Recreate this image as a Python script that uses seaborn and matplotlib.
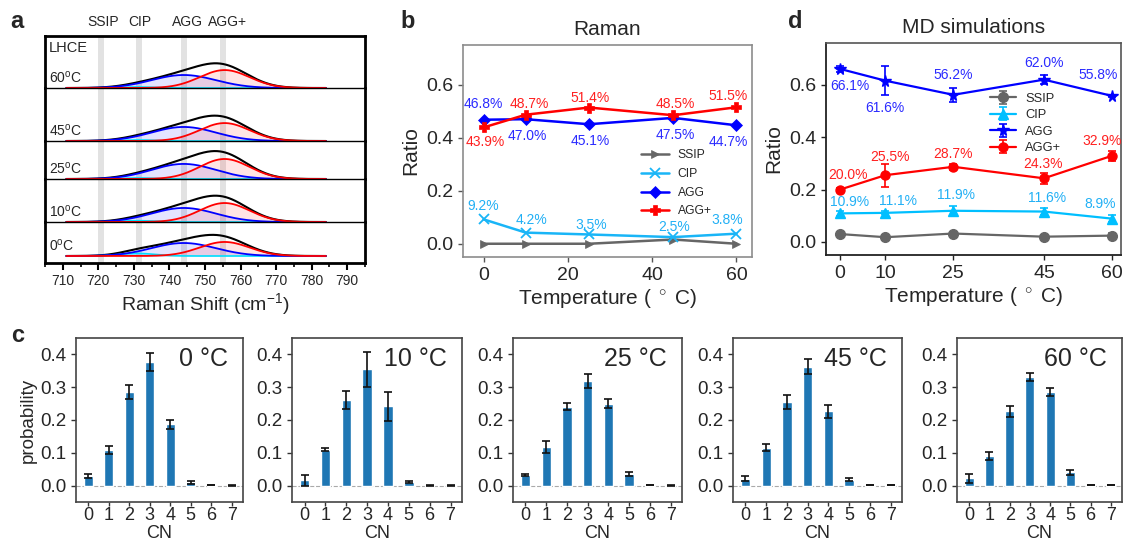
import numpy as np
import matplotlib
matplotlib.use('Agg')
import matplotlib.pyplot as plt
import matplotlib.transforms as mtransforms
from matplotlib.ticker import MultipleLocator
import seaborn as sns

# ---------------- data ----------------
# panel a: fitted Raman components per temperature (top strip -> bottom strip)
a_temps = ['60', '45', '25', '10', '0']
a_agg_amp = [0.50, 0.54, 0.58, 0.54, 0.50]
a_aggp_amp = [0.69, 0.69, 0.77, 0.73, 0.54]
a_cip_amp = [0.04, 0.04, 0.04, 0.05, 0.10]
a_centers = {'CIP': 731.0, 'AGG': 744.0, 'AGG+': 755.5}
a_sigmas = {'CIP': 5.0, 'AGG': 9.0, 'AGG+': 7.0}
band_labels = ['SSIP', 'CIP', 'AGG', 'AGG+']
band_pos = [720.7, 731.5, 744.2, 755.0]

# panel b: Raman ratios
b_temp = [0, 10, 25, 45, 60]
b_ssip = [0.0, 0.0, 0.0, 0.016, 0.0]
b_cip = [0.092, 0.042, 0.035, 0.025, 0.038]
b_agg = [0.468, 0.470, 0.451, 0.475, 0.447]
b_aggp = [0.439, 0.487, 0.514, 0.485, 0.515]

# panel d: MD ratios with error bars
d_temp = [0, 10, 25, 45, 60]
d_ssip = [0.030, 0.018, 0.032, 0.020, 0.024]
d_ssip_err = [0.005, 0.010, 0.005, 0.005, 0.010]
d_cip = [0.109, 0.111, 0.119, 0.116, 0.089]
d_cip_err = [0.011, 0.006, 0.019, 0.013, 0.013]
d_agg = [0.661, 0.616, 0.562, 0.620, 0.558]
d_agg_err = [0.012, 0.055, 0.026, 0.018, 0.005]
d_aggp = [0.200, 0.255, 0.287, 0.243, 0.329]
d_aggp_err = [0.005, 0.044, 0.011, 0.021, 0.018]

# panel c: CN distributions
c_cn = [0, 1, 2, 3, 4, 5, 6, 7]
c_titles = ['0 °C', '10 °C', '25 °C', '45 °C', '60 °C']
c_prob_0 = [0.028, 0.108, 0.285, 0.377, 0.187, 0.010, 0.001, 0.0005]
c_err_0 = [0.006, 0.013, 0.021, 0.027, 0.014, 0.005, 0.0005, 0.0005]
c_prob_10 = [0.016, 0.110, 0.261, 0.355, 0.242, 0.010, 0.0005, 0.0005]
c_err_10 = [0.017, 0.004, 0.026, 0.053, 0.044, 0.003, 0.0005, 0.0005]
c_prob_25 = [0.032, 0.118, 0.240, 0.319, 0.250, 0.035, 0.001, 0.0005]
c_err_25 = [0.004, 0.019, 0.011, 0.020, 0.014, 0.007, 0.0005, 0.0005]
c_prob_45 = [0.021, 0.116, 0.256, 0.363, 0.226, 0.018, 0.002, 0.001]
c_err_45 = [0.007, 0.011, 0.021, 0.024, 0.021, 0.005, 0.0005, 0.0005]
c_prob_60 = [0.022, 0.090, 0.226, 0.331, 0.285, 0.040, 0.002, 0.001]
c_err_60 = [0.014, 0.012, 0.016, 0.013, 0.013, 0.009, 0.0005, 0.0005]

# ---------------- style ----------------
sns.set_theme(style='ticks')
plt.rcParams['font.family'] = ['Liberation Sans', 'DejaVu Sans']
plt.rcParams['mathtext.fontset'] = 'custom'
plt.rcParams['mathtext.rm'] = 'Liberation Sans'
plt.rcParams['mathtext.it'] = 'Liberation Sans:italic'
plt.rcParams['mathtext.bf'] = 'Liberation Sans:bold'

W, H = 1123, 544
fig = plt.figure(figsize=(W / 100, H / 100), dpi=100)
PT = 0.72  # points per pixel


def rect(l, t, r, b):
    return [l / W, 1 - b / H, (r - l) / W, (b - t) / H]


def ftext(x, y, s, **kw):
    return fig.text(x / W, 1 - y / H, s, **kw)


def gauss(x, a, c, s):
    return a * np.exp(-0.5 * ((x - c) / s) ** 2)


# ---------------- panel a ----------------
strip_px = [(36, 88), (88, 141), (141, 179), (179, 222), (222, 263)]
baseline_px = [88, 141, 179, 222, 256]
unit_px = 26.0
xs = np.linspace(711, 784, 600)
n_strips = len(a_temps)
for i in range(n_strips):
    top, bot = strip_px[i]
    base = baseline_px[i]
    ax = fig.add_axes(rect(45, top, 365, bot))
    ax.set_xlim(705, 795)
    ax.set_ylim(-(bot - base) / unit_px, (base - top) / unit_px)
    for p in band_pos:
        ax.axvspan(p - 0.85, p + 0.85, color='#e2e2e2', zorder=0, lw=0)
    cip = gauss(xs, a_cip_amp[i], a_centers['CIP'], a_sigmas['CIP'])
    agg = gauss(xs, a_agg_amp[i], a_centers['AGG'], a_sigmas['AGG'])
    aggp = gauss(xs, a_aggp_amp[i], a_centers['AGG+'], a_sigmas['AGG+'])
    total = cip + agg + aggp
    ax.fill_between(xs, 0, cip, color='#00e5ff', alpha=0.25, lw=0, zorder=1)
    ax.fill_between(xs, 0, agg, color='#3030ff', alpha=0.13, lw=0, zorder=1)
    ax.fill_between(xs, 0, aggp, color='#ff3030', alpha=0.13, lw=0, zorder=1)
    ax.plot(xs, total, color='black', lw=1.5, zorder=2)
    ax.plot(xs, cip, color='#00e0ff', lw=1.2, zorder=3)
    ax.plot(xs, agg, color='#0000ff', lw=1.3, zorder=3)
    ax.plot(xs, aggp, color='#ff0000', lw=1.3, zorder=4)
    ax.set_yticks([])
    for s in ['left', 'right']:
        ax.spines[s].set_linewidth(2.0)
        ax.spines[s].set_color('black')
    ax.spines['top'].set_linewidth(2.0 if i == 0 else 1.0)
    ax.spines['top'].set_color('black')
    ax.spines['bottom'].set_color('black')
    if i < n_strips - 1:
        ax.spines['bottom'].set_visible(False)
        ax.set_xticks([])
    else:
        ax.spines['bottom'].set_linewidth(2.0)
        ax.xaxis.set_major_locator(MultipleLocator(10))
        ax.xaxis.set_minor_locator(MultipleLocator(5))
        ax.tick_params(axis='x', which='major', direction='out', length=5, width=1.5,
                       labelsize=10, pad=3, color='black')
        ax.tick_params(axis='x', which='minor', direction='out', length=3, width=1.2,
                       color='black', bottom=True)
        ax.set_xlim(705, 795)
        ax.set_xlabel('Raman Shift (cm$^{-1}$)', fontsize=14, labelpad=2)
    tr = mtransforms.blended_transform_factory(ax.transAxes, ax.transData)
    ax.text(0.012, 2.5 / unit_px, a_temps[i] + '$^{\\rm o}$C', transform=tr,
            ha='left', va='bottom', fontsize=10)

ftext(49, 48, 'LHCE', ha='left', va='center', fontsize=10.5)
band_label_x = [103, 140, 187, 227]
for lab, xp in zip(band_labels, band_label_x):
    ftext(xp, 22, lab, ha='center', va='center', fontsize=10)

# ---------------- panel b ----------------
axb = fig.add_axes(rect(463, 45, 752, 257))
b_series = [
    ('SSIP', b_ssip, '#666666', '>', 6),
    ('CIP', b_cip, '#19b5f7', 'x', 7),
    ('AGG', b_agg, '#0000ff', 'D', 6),
    ('AGG+', b_aggp, '#ff0000', 'P', 7.5),
]
for name, vals, col, mk, ms in b_series:
    sns.lineplot(x=b_temp, y=vals, ax=axb, color=col, marker=mk, markersize=ms,
                 linewidth=1.8, label=name, markeredgecolor=col,
                 markeredgewidth=1.3 if mk == 'x' else 0.5)
axb.set_xlim(-4.9, 63.7)
axb.set_ylim(-0.05, 0.75)
axb.set_xticks([0, 20, 40, 60])
axb.set_yticks([0.0, 0.2, 0.4, 0.6])
axb.set_yticklabels(['0.0', '0.2', '0.4', '0.6'])
for s in axb.spines.values():
    s.set_color('#8c8c8c')
    s.set_linewidth(1.2)
axb.tick_params(direction='out', length=3.5, width=1, color='#555555', labelsize=14)
axb.set_xlabel('Temperature ( $^\\circ$ C)', fontsize=15, labelpad=2)
axb.set_ylabel('Ratio', fontsize=15, labelpad=4)
axb.set_title('Raman', fontsize=15, pad=7)
axb.legend(loc='upper left', bbox_to_anchor=(0.6, 0.53), frameon=False, fontsize=8.7,
           handlelength=2.3, labelspacing=0.55, handletextpad=0.7, borderaxespad=0)

b_off_agg = [(0, 16), (2, -17), (1, -17), (2, -17), (-8, -17)]
b_off_aggp = [(2, -15), (4, 11), (1, 10), (2, 11), (-8, 11)]
b_off_cip = [(0, 13), (6, 13), (2, 9), (1, 10), (-9, 14)]
for vals, offs, col in [(b_agg, b_off_agg, '#2b2bff'), (b_aggp, b_off_aggp, '#ff2020'),
                        (b_cip, b_off_cip, '#22b0f5')]:
    for t, v, (dx, dy) in zip(b_temp, vals, offs):
        axb.annotate(f'{v * 100:.1f}%', (t, v), xytext=(dx * PT, dy * PT),
                     textcoords='offset points', ha='center', va='center',
                     color=col, fontsize=10)

# ---------------- panel d ----------------
axd = fig.add_axes(rect(826, 43, 1121, 255))
d_series = [
    ('SSIP', d_ssip, d_ssip_err, '#666666', 'o', 7),
    ('CIP', d_cip, d_cip_err, '#00bfff', '^', 7),
    ('AGG', d_agg, d_agg_err, '#0000ff', '*', 8.5),
    ('AGG+', d_aggp, d_aggp_err, '#ff0000', 'o', 6.5),
]
for name, vals, errs, col, mk, ms in d_series:
    axd.errorbar(d_temp, vals, yerr=errs, color=col, marker=mk, markersize=ms,
                 lw=1.6, capsize=3, elinewidth=1.2, capthick=1.2, label=name)
axd.set_xlim(-3.1, 62)
axd.set_ylim(-0.05, 0.76)
axd.set_xticks(d_temp)
axd.set_yticks([0.0, 0.2, 0.4, 0.6])
axd.set_yticklabels(['0.0', '0.2', '0.4', '0.6'])
for s in ['left', 'bottom']:
    axd.spines[s].set_color('#222222')
    axd.spines[s].set_linewidth(1.3)
for s in ['top', 'right']:
    axd.spines[s].set_color('#555555')
    axd.spines[s].set_linewidth(1.2)
axd.tick_params(direction='out', length=3.5, width=1, color='#222222', labelsize=14)
axd.set_xlabel('Temperature ( $^\\circ$ C)', fontsize=15, labelpad=2)
axd.set_ylabel('Ratio', fontsize=15, labelpad=4)
axd.set_title('MD simulations', fontsize=15, pad=7)
axd.legend(loc='upper left', bbox_to_anchor=(0.54, 0.79), frameon=False, fontsize=9.3,
           handlelength=2.0, labelspacing=0.35, handletextpad=0.7, borderaxespad=0)

d_off_agg = [(10, -17), (0, -27), (0, 20), (0, 17), (-14, 21)]
d_off_aggp = [(8, 15), (5, 18), (0, 13), (-1, 14), (-10, 15)]
d_off_cip = [(10, 11), (13, 12), (3, 16), (3, 14), (-12, 15)]
for vals, offs, col in [(d_agg, d_off_agg, '#2b2bff'), (d_aggp, d_off_aggp, '#ff2020'),
                        (d_cip, d_off_cip, '#22b0f5')]:
    for t, v, (dx, dy) in zip(d_temp, vals, offs):
        axd.annotate(f'{v * 100:.1f}%', (t, v), xytext=(dx * PT, dy * PT),
                     textcoords='offset points', ha='center', va='center',
                     color=col, fontsize=10)

# ---------------- panel c ----------------
c_lefts = [76, 292, 513, 733, 957]
c_rights = [243, 462, 682, 902, 1122]
c_probs = [c_prob_0, c_prob_10, c_prob_25, c_prob_45, c_prob_60]
c_errs = [c_err_0, c_err_10, c_err_25, c_err_45, c_err_60]
for k in range(5):
    axc = fig.add_axes(rect(c_lefts[k], 338, c_rights[k], 502))
    sns.barplot(x=c_cn, y=c_probs[k], ax=axc, color='#1f77b4', saturation=1,
                width=0.45, errorbar=None)
    axc.errorbar(range(len(c_cn)), c_probs[k], yerr=c_errs[k], fmt='none',
                 ecolor='#111111', capsize=3, elinewidth=1.2, capthick=1.2)
    axc.axhline(0, color='#aaaaaa', ls='--', lw=0.8, zorder=0)
    axc.set_xlim(-0.6, 7.55)
    axc.set_ylim(-0.05, 0.45)
    axc.set_yticks([0.0, 0.1, 0.2, 0.3, 0.4])
    axc.set_yticklabels(['0.0', '0.1', '0.2', '0.3', '0.4'])
    for s in axc.spines.values():
        s.set_color('#444444')
        s.set_linewidth(1.2)
    axc.tick_params(axis='y', direction='out', length=3.5, width=1, color='#333333',
                    labelsize=13.5)
    axc.tick_params(axis='x', direction='out', length=3, width=1, color='#333333',
                    labelsize=13, pad=0.5)
    axc.set_xlabel('CN', fontsize=13, labelpad=0.5)
    if k == 0:
        axc.set_ylabel('probability', fontsize=13.5, labelpad=2)
    else:
        axc.set_ylabel('')
    axc.text(0.91, 0.872, c_titles[k], transform=axc.transAxes, ha='right', va='center',
             fontsize=18)

# ---------------- panel letters ----------------
for lab, xp, yp in [('a', 17, 22), ('b', 408, 22), ('d', 795, 22), ('c', 18, 335)]:
    ftext(xp, yp, lab, ha='center', va='center', fontsize=17, fontweight='bold')

fig.savefig('out.png', dpi=100)
